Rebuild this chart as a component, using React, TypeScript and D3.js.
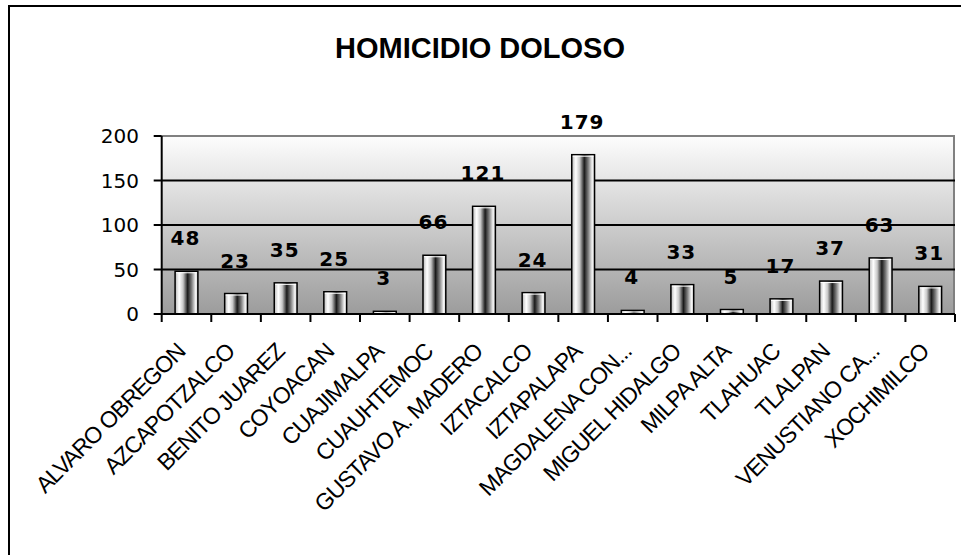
import React from "react";
import * as d3 from "d3";

const categories = [
  "ALVARO OBREGON",
  "AZCAPOTZALCO",
  "BENITO JUAREZ",
  "COYOACAN",
  "CUAJIMALPA",
  "CUAUHTEMOC",
  "GUSTAVO A. MADERO",
  "IZTACALCO",
  "IZTAPALAPA",
  "MAGDALENA CON...",
  "MIGUEL HIDALGO",
  "MILPA ALTA",
  "TLAHUAC",
  "TLALPAN",
  "VENUSTIANO CA...",
  "XOCHIMILCO",
];
const values = [48, 23, 35, 25, 3, 66, 121, 24, 179, 4, 33, 5, 17, 37, 63, 31];
const yTicks = [0, 50, 100, 150, 200];
const title = "HOMICIDIO DOLOSO";

export default function App() {
  const W = 961;
  const H = 555;
  const left = 161.7;
  const right = 955;
  const top = 136;
  const bottom = 314;

  const x = d3.scaleBand<string>().domain(categories).range([left, right]).padding(0);
  const y = d3.scaleLinear().domain([0, 200]).range([bottom, top]);
  const bw = x.bandwidth() * 0.46;

  return (
    <svg
      width={W}
      height={H}
      style={{ position: "absolute", left: 0, top: 0, background: "#fff" }}
    >
      <defs>
        <linearGradient id="bg" x1="0" y1="0" x2="0" y2="1">
          <stop offset="0" stopColor="#fdfdfd" />
          <stop offset="1" stopColor="#9c9c9c" />
        </linearGradient>
        <linearGradient id="bar" x1="0" y1="0" x2="1" y2="0">
          <stop offset="0" stopColor="#b8b8b8" />
          <stop offset="0.18" stopColor="#ffffff" />
          <stop offset="0.35" stopColor="#c8c8c8" />
          <stop offset="0.55" stopColor="#1a1a1a" />
          <stop offset="0.72" stopColor="#7a7a7a" />
          <stop offset="0.9" stopColor="#f4f4f4" />
          <stop offset="1" stopColor="#d0d0d0" />
        </linearGradient>
      </defs>

      {/* outer border */}
      <line x1={9} y1={6} x2={W + 5} y2={6} stroke="#000" strokeWidth={2} />
      <line x1={9} y1={5} x2={9} y2={H + 5} stroke="#000" strokeWidth={2} />

      {/* title */}
      <text
        x={480}
        y={58}
        textAnchor="middle"
        fontFamily="Liberation Sans, Arial, sans-serif"
        fontWeight="bold"
        fontSize={29}
        fill="#000"
      >
        {title}
      </text>

      {/* plot background */}
      <rect x={left} y={top} width={right - left} height={bottom - top} fill="url(#bg)" />

      {/* plot border top/right */}
      <line x1={left} y1={y(200)} x2={right} y2={y(200)} stroke="#808080" strokeWidth={2} />
      <line x1={right - 1} y1={top} x2={right - 1} y2={bottom} stroke="#808080" strokeWidth={2} />

      {/* gridlines */}
      {yTicks
        .filter((t) => t > 0 && t < 200)
        .map((t) => (
          <line key={t} x1={left} x2={right} y1={y(t)} y2={y(t)} stroke="#000" strokeWidth={2} />
        ))}

      {/* bars */}
      {categories.map((c, i) => {
        const cx = (x(c) as number) + x.bandwidth() / 2;
        const v = values[i];
        return (
          <g key={c}>
            <rect
              x={cx - bw / 2}
              y={y(v)}
              width={bw}
              height={bottom - y(v)}
              fill="url(#bar)"
              stroke="#000"
              strokeWidth={1.5}
            />
            <line
              x1={cx - bw / 2 + 1}
              x2={cx + bw / 2 - 1}
              y1={y(v) + 1.5}
              y2={y(v) + 1.5}
              stroke="#fff"
              strokeWidth={1}
            />
          </g>
        );
      })}

      {/* axes */}
      <line x1={left} y1={bottom} x2={right} y2={bottom} stroke="#000" strokeWidth={2} />
      <line x1={left} y1={top} x2={left} y2={bottom + 1} stroke="#000" strokeWidth={2} />
      {yTicks.map((t) => (
        <g key={t}>
          <line x1={left - 8} x2={left} y1={y(t)} y2={y(t)} stroke="#000" strokeWidth={2} />
          <text
            x={139}
            y={y(t) + 7}
            textAnchor="end"
            fontFamily="DejaVu Sans, Verdana, sans-serif"
            fontSize={20}
            fill="#000"
          >
            {t}
          </text>
        </g>
      ))}
      {[...categories.map((c) => x(c) as number), right].map((px, i) => (
        <line key={i} x1={px} x2={px} y1={bottom} y2={bottom + 8} stroke="#000" strokeWidth={2} />
      ))}

      {/* data labels */}
      {categories.map((c, i) => {
        const cx = (x(c) as number) + x.bandwidth() / 2;
        return (
          <text
            key={c}
            x={cx - 1}
            y={y(values[i]) - 26}
            textAnchor="middle"
            fontFamily="DejaVu Sans, Verdana, sans-serif"
            fontWeight="bold"
            fontSize={20}
            letterSpacing={1}
            fill="#000"
          >
            {values[i]}
          </text>
        );
      })}

      {/* x labels */}
      {categories.map((c) => {
        const cx = (x(c) as number) + x.bandwidth() / 2;
        const ay = 353;
        return (
          <text
            key={c}
            transform={`translate(${cx},${ay}) rotate(-45)`}
            textAnchor="end"
            fontFamily="Liberation Sans, Arial, sans-serif"
            fontSize={23}
            letterSpacing={-1}
            fill="#000"
          >
            {c}
          </text>
        );
      })}
    </svg>
  );
}
